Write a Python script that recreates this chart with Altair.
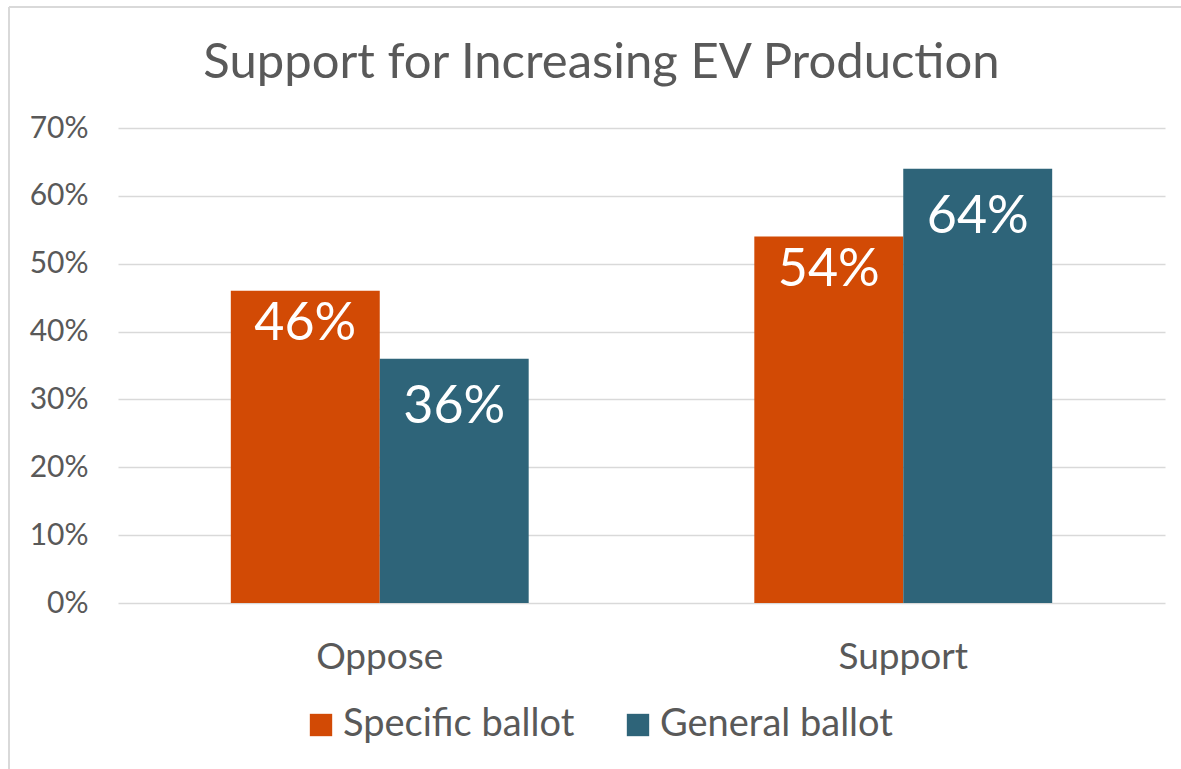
import altair as alt
import pandas as pd

categories = ["Oppose", "Oppose", "Support", "Support"]
series = ["Specific ballot", "General ballot", "Specific ballot", "General ballot"]
values = [0.46, 0.36, 0.54, 0.64]
series_order = ["Specific ballot", "General ballot"]
colors = ["#D24A05", "#2E6479"]
y_ticks = [0, 0.1, 0.2, 0.3, 0.4, 0.5, 0.6, 0.7]

df = pd.DataFrame({"category": categories, "series": series, "value": values})

FONT = "Lato"
TXT = "#595959"
W, H = 1047, 475

x_enc = alt.X("category:N", title=None,
              scale=alt.Scale(paddingInner=0.431, paddingOuter=0.2155),
              axis=alt.Axis(labelAngle=0, labelFontSize=37, labelColor=TXT, labelFont=FONT,
                            ticks=False, domain=False, labelPadding=36))
xoff = alt.XOffset("series:N", sort=series_order, scale=alt.Scale(paddingInner=0))

bars = alt.Chart(df).mark_bar().encode(
    x=x_enc,
    xOffset=xoff,
    y=alt.Y("value:Q", title=None,
            scale=alt.Scale(domain=[0, 0.7], nice=False),
            axis=alt.Axis(values=y_ticks, format=".0%", labelFontSize=30, labelColor=TXT,
                          labelFont=FONT, ticks=False, domain=False, gridColor="#D9D9D9",
                          gridWidth=1.5, labelPadding=30)),
    color=alt.Color("series:N", sort=series_order,
                    scale=alt.Scale(domain=series_order, range=colors),
                    legend=alt.Legend(title=None, orient="none", direction="horizontal",
                                      legendX=184, legendY=578, labelFontSize=38,
                                      labelColor=TXT, labelFont=FONT, symbolType="square",
                                      symbolSize=500, symbolStrokeWidth=0, symbolOpacity=1,
                                      columnPadding=44, labelOffset=3, labelLimit=400)),
)

def labels(s, dy):
    return alt.Chart(df).transform_filter(alt.datum.series == s).mark_text(
        color="white", fontSize=52, font=FONT, baseline="middle", dy=dy
    ).encode(
        x=alt.X("category:N"),
        xOffset=xoff,
        y="value:Q",
        text=alt.Text("value:Q", format=".0%"),
    )

border_data = alt.Data(values=[{"k": 1}])
top_border = alt.Chart(border_data).mark_rule(color="#D9D9D9", strokeWidth=2, clip=False).encode(
    x=alt.value(-109), x2=alt.value(1181 - 118), y=alt.value(-121))
left_border = alt.Chart(border_data).mark_rule(color="#D9D9D9", strokeWidth=2, clip=False).encode(
    x=alt.value(-109), y=alt.value(-121), y2=alt.value(769 - 128))

chart = alt.layer(bars, labels("Specific ballot", 33), labels("General ballot", 48),
                  top_border, left_border).properties(
    width=W, height=H,
    autosize=alt.AutoSizeParams(type="none"),
    padding={"left": 118, "top": 128, "right": 16, "bottom": 166},
    title=alt.TitleParams("Support for Increasing EV Production", fontSize=49, font=FONT,
                          color=TXT, fontWeight="normal", anchor="middle", offset=-82,
                          dx=-40),
    background="white",
).configure_view(stroke=None)

chart.save("out.html", embed_options={"renderer": "svg", "actions": False})
